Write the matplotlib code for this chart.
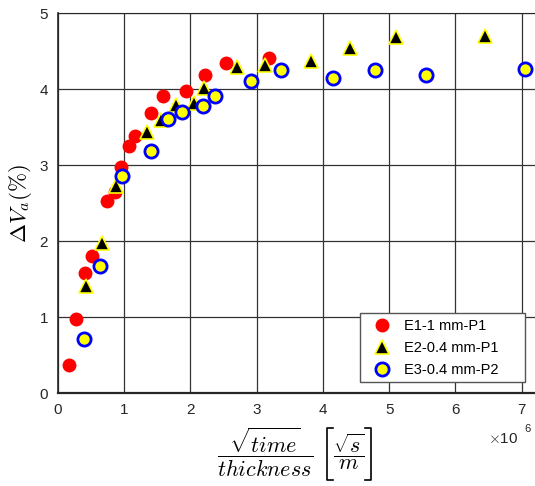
import matplotlib
matplotlib.use("Agg")
import matplotlib.pyplot as plt
from matplotlib.patches import Rectangle
from matplotlib.lines import Line2D

plt.rcParams['font.family'] = ['Liberation Sans', 'DejaVu Sans']
plt.rcParams['mathtext.fontset'] = 'cm'

e1_x = [0.17, 0.28, 0.41, 0.52, 0.74, 0.86, 0.96, 1.08, 1.16, 1.40, 1.59, 1.94, 2.22, 2.54, 3.19]
e1_y = [0.37, 0.97, 1.58, 1.80, 2.53, 2.65, 2.97, 3.25, 3.38, 3.69, 3.91, 3.98, 4.19, 4.34, 4.41]

e2_x = [0.42, 0.66, 0.88, 1.35, 1.56, 1.78, 2.05, 2.21, 2.71, 3.12, 3.82, 4.41, 5.10, 6.44]
e2_y = [1.41, 1.98, 2.73, 3.43, 3.60, 3.79, 3.82, 4.01, 4.29, 4.32, 4.37, 4.54, 4.69, 4.70]

e3_x = [0.40, 0.63, 0.97, 1.41, 1.67, 1.88, 2.19, 2.37, 2.91, 3.37, 4.15, 4.79, 5.56, 7.05]
e3_y = [0.71, 1.67, 2.86, 3.18, 3.61, 3.70, 3.78, 3.91, 4.11, 4.25, 4.14, 4.25, 4.18, 4.26]

labels = ['E1-1 mm-P1', 'E2-0.4 mm-P1', 'E3-0.4 mm-P2']
x_ticks = [0, 1, 2, 3, 4, 5, 6, 7]
y_ticks = [0, 1, 2, 3, 4, 5]

W, H = 535, 486
fig = plt.figure(figsize=(W / 100, H / 100), dpi=100)
ax = fig.add_axes([0.108, 0.191, 0.892, 0.782])

ax.plot(e1_x, e1_y, 'o', color='red', markeredgecolor='red', markersize=9, label=labels[0], zorder=2)
ax.plot(e2_x, e2_y, '^', color='black', markeredgecolor='yellow', markeredgewidth=1.2,
        markersize=9.5, label=labels[1], zorder=3)
ax.plot(e3_x, e3_y, 'o', color='yellow', markeredgecolor='blue', markeredgewidth=2,
        markersize=9.5, label=labels[2], zorder=4)

ax.set_xlim(0, 7.2)
ax.set_ylim(0, 5)
ax.set_xticks(x_ticks)
ax.set_yticks(y_ticks)
ax.grid(True, color='#333333', linewidth=0.9)
ax.set_axisbelow(True)
ax.tick_params(direction='in', length=0, labelsize=11, labelcolor='#262626', pad=7)
for s in ['left', 'top', 'bottom']:
    ax.spines[s].set_color('#262626')
ax.spines['bottom'].set_linewidth(1.6)
ax.spines['left'].set_linewidth(1.2)
ax.spines['right'].set_visible(False)

ax.set_ylabel(r'$\Delta V_a(\%)$', fontsize=16.5, labelpad=4)

# x label: fraction plus bracketed unit
fig.text(265.5 / W, 1 - 452 / H, r'$\dfrac{\sqrt{time}}{thickness}$', fontsize=16, ha='center', va='center')
fig.text(349 / W, 1 - 452 / H, r'$\dfrac{\sqrt{s}}{m}$', fontsize=16, ha='center', va='center')
for xv, xs in [(327, 333), (371, 365)]:
    fig.add_artist(Line2D([xs / W, xv / W, xv / W, xs / W],
                          [1 - 428 / H, 1 - 428 / H, 1 - 480 / H, 1 - 480 / H],
                          color='black', linewidth=1.2))

fig.text(0.913, 0.083, r'$\times$10', fontsize=11, color='#262626', ha='left', va='bottom')
fig.text(0.980, 0.106, '6', fontsize=8, color='#262626', ha='left', va='bottom')

frame = Rectangle((0.633, 0.029), 0.346, 0.181, transform=ax.transAxes, facecolor='white',
                  edgecolor='#555555', linewidth=1.0, zorder=5)
ax.add_patch(frame)
leg = ax.legend(loc='center left', bbox_to_anchor=(0.636, 0.119), fontsize=10.5, frameon=False,
                borderpad=0.4, handletextpad=0.5, labelspacing=0.55, borderaxespad=0)
leg.set_zorder(6)

fig.savefig('out.png', dpi=100)
